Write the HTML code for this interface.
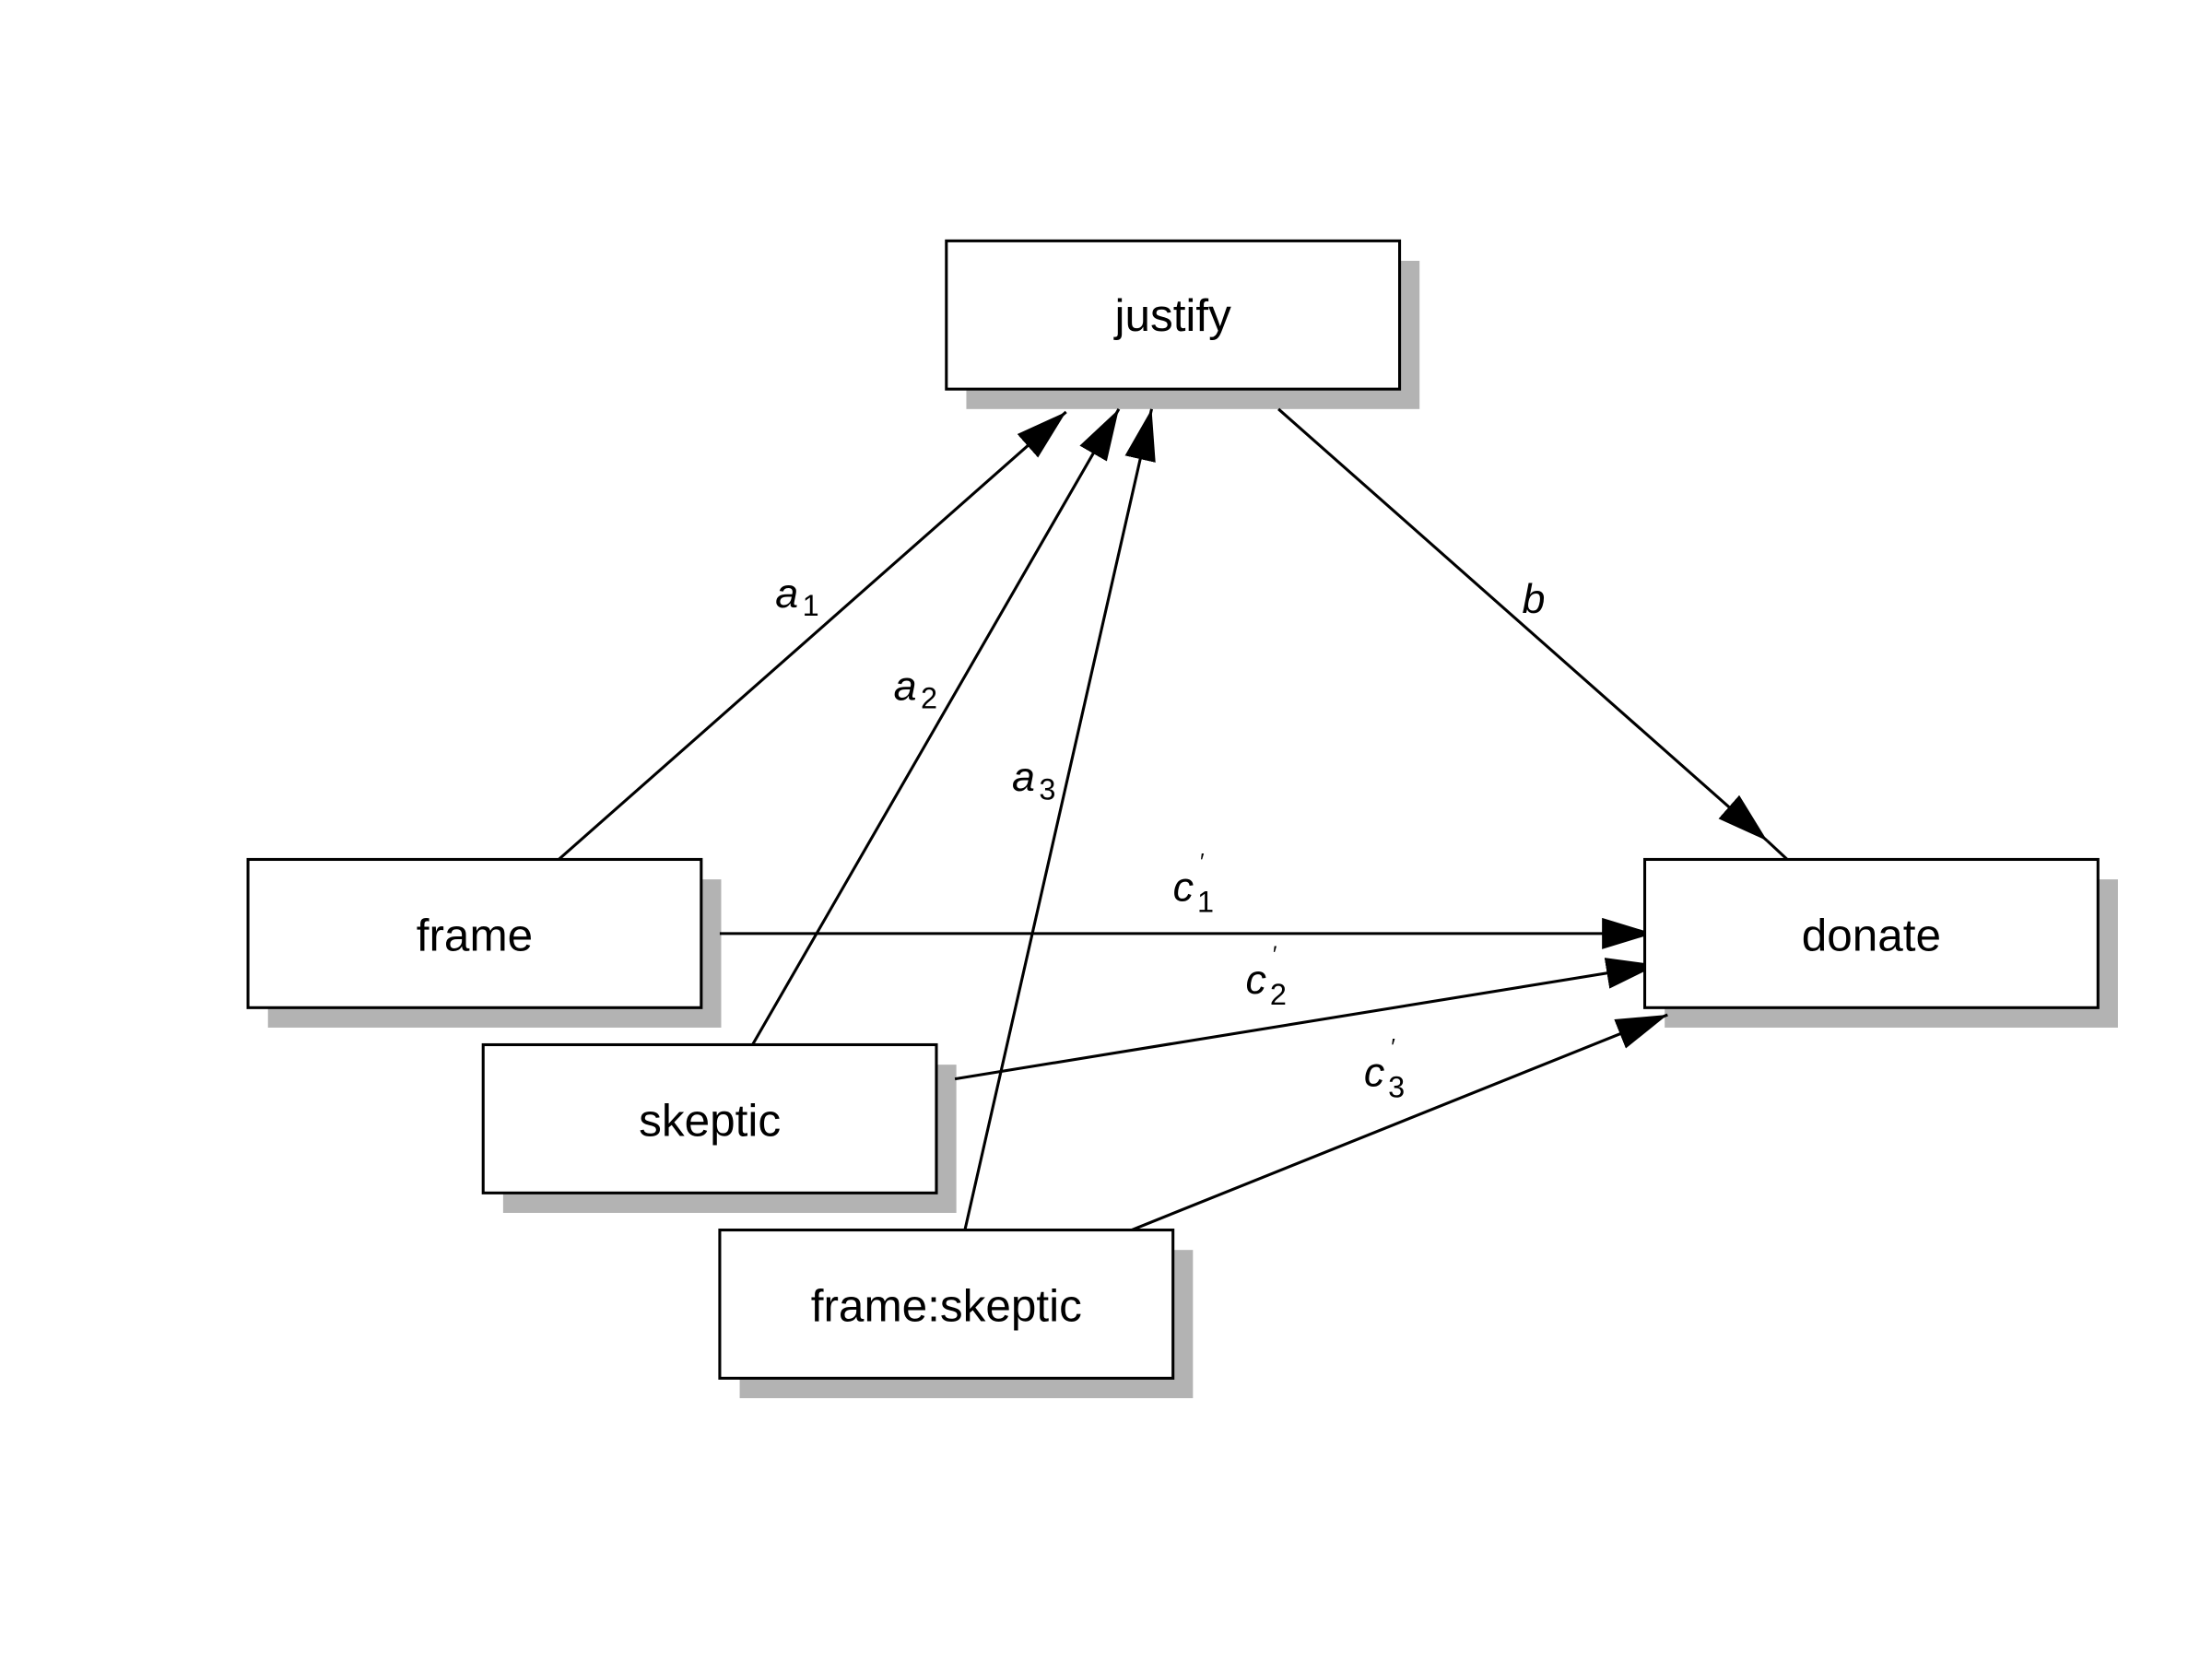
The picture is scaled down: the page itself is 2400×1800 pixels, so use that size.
<!DOCTYPE html>
<html><head><meta charset="utf-8"><style>html,body{margin:0;padding:0;background:#fff}svg{display:block}</style></head>
<body>
<svg width="2400" height="1800" viewBox="0 0 1552 1164" xmlns="http://www.w3.org/2000/svg" font-family="Liberation Sans, Arial, sans-serif">
<defs>
<marker id="ah" markerUnits="userSpaceOnUse" markerWidth="40" markerHeight="24" refX="36" refY="11" orient="auto">
<path d="M0,0 L36,11 L0,22 z" fill="#000"/>
</marker>
</defs>
<rect width="1552" height="1164" fill="#fff"/>
<g fill="#b3b3b3">
<rect x="678" y="183" width="318" height="104"/>
<rect x="188" y="617" width="318" height="104"/>
<rect x="353" y="747" width="318" height="104"/>
<rect x="519" y="877" width="318" height="104"/>
<rect x="1168" y="617" width="318" height="104"/>
</g>
<g stroke="#000" stroke-width="2" fill="none">
<line x1="392" y1="603" x2="748" y2="289" marker-end="url(#ah)"/>
<line x1="528" y1="733" x2="785" y2="287" marker-end="url(#ah)"/>
<line x1="677" y1="863" x2="808" y2="287" marker-end="url(#ah)"/>
<line x1="897" y1="287" x2="1240" y2="590" marker-end="url(#ah)"/>
<line x1="1240" y1="590" x2="1254" y2="603"/>
<line x1="505" y1="655" x2="1160" y2="655" marker-end="url(#ah)"/>
<line x1="670" y1="757" x2="1163" y2="677" marker-end="url(#ah)"/>
<line x1="794" y1="863" x2="1170" y2="712" marker-end="url(#ah)"/>
</g>
<g fill="#fff" stroke="#000" stroke-width="2">
<rect x="664" y="169" width="318" height="104"/>
<rect x="174" y="603" width="318" height="104"/>
<rect x="339" y="733" width="318" height="104"/>
<rect x="505" y="863" width="318" height="104"/>
<rect x="1154" y="603" width="318" height="104"/>
</g>
<g font-size="32" text-anchor="middle" fill="#000">
<text x="823" y="232">justify</text>
<text x="333" y="667">frame</text>
<text x="498" y="797">skeptic</text>
<text x="664" y="927">frame:skeptic</text>
<text x="1313" y="667">donate</text>
</g>
<g font-size="29" fill="#000">
<text x="544" y="426" font-style="italic">a</text><text x="563" y="432" font-size="21">1</text>
<text x="627" y="491" font-style="italic">a</text><text x="646" y="497" font-size="21">2</text>
<text x="710" y="555" font-style="italic">a</text><text x="729" y="561" font-size="21">3</text>
<text x="1068" y="430" font-style="italic">b</text>
<text x="823" y="632" font-style="italic">c</text><text x="842" y="610" font-size="16">′</text><text x="840" y="640" font-size="21">1</text>
<text x="874" y="697" font-style="italic">c</text><text x="893" y="675" font-size="16">′</text><text x="891" y="705" font-size="21">2</text>
<text x="957" y="762" font-style="italic">c</text><text x="976" y="740" font-size="16">′</text><text x="974" y="770" font-size="21">3</text>
</g>
</svg>
</body></html>
